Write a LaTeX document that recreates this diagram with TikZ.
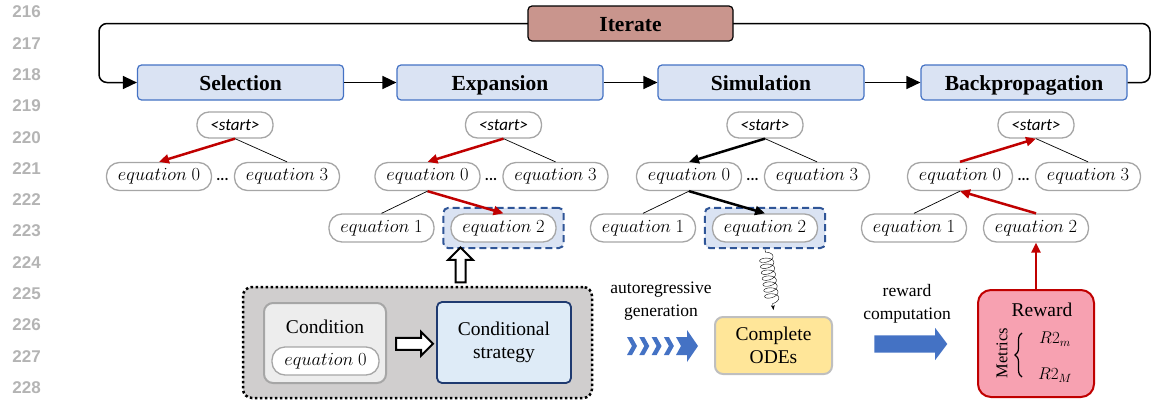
\documentclass[tikz,border=0pt]{standalone}
\usepackage{fix-cm}
\usepackage{fontspec}
\setmainfont{Liberation Serif}
\newfontfamily\carlito{Carlito}
\newfontfamily\numfont{Liberation Sans}
\usetikzlibrary{arrows.meta,positioning,calc,fit,backgrounds,shapes.arrows,decorations.pathmorphing,decorations.pathreplacing}

\definecolor{stagefill}{HTML}{DAE3F3}
\definecolor{stageblue}{HTML}{4472C4}
\definecolor{iterfill}{HTML}{C9958D}
\definecolor{pillgray}{HTML}{A6A6A6}
\definecolor{arrred}{HTML}{C00000}
\definecolor{holderfill}{HTML}{D0CECE}
\definecolor{condfill}{HTML}{EDEDED}
\definecolor{stratfill}{HTML}{DEEBF7}
\definecolor{stratnavy}{HTML}{1F3A70}
\definecolor{pickblue}{HTML}{2F5597}
\definecolor{odefill}{HTML}{FFE699}
\definecolor{odegray}{HTML}{BFBFBF}
\definecolor{rewardfill}{HTML}{F7A1B1}
\definecolor{linenum}{HTML}{B4B4B4}

\begin{document}
\begin{tikzpicture}[x=1pt,y=-1pt,
  stage/.style={draw=stageblue,fill=stagefill,line width=1.2pt,rounded corners=4pt,minimum width=206pt,minimum height=35pt,text height=15pt,text depth=0pt,font=\fontsize{21.5}{24}\selectfont\bfseries},
  iter/.style={stage,draw=black,fill=iterfill,minimum width=205pt},
  flow/.style={line width=1.5pt,-{Triangle[length=14pt,width=13pt]}},
  pill/.style={draw=pillgray,fill=white,line width=1.3pt,rounded corners=13pt,minimum width=105pt,minimum height=28pt,inner sep=0pt,font=\fontsize{18.5}{20}\selectfont},
  root/.style={pill,minimum width=76pt,minimum height=26pt,rounded corners=12pt,font=\carlito\itshape\fontsize{17}{20}\selectfont},
  dots/.style={font=\carlito\bfseries\fontsize{15}{16}\selectfont,inner sep=0pt},
  treeline/.style={line width=0.7pt},
  redarr/.style={draw=arrred,line width=2.5pt,-{Triangle[length=10pt,width=9pt]}},
  blkarr/.style={line width=2.5pt,-{Triangle[length=10pt,width=9pt]}},
  pick/.style={draw=pickblue,fill=stagefill,line width=2pt,dash pattern=on 7pt off 4pt,rounded corners=5pt,inner xsep=7pt,inner ysep=5.5pt},
  body/.style={font=\fontsize{19.5}{23}\selectfont,align=center},
  lbl/.style={font=\fontsize{17.5}{23}\selectfont,align=center},
  hollow/.style={draw,fill=white,line width=2pt,single arrow,inner xsep=0pt},
  lineno/.style={font=\numfont\bfseries\fontsize{17}{20}\selectfont,text=linenum,anchor=east,inner sep=0pt}]
\useasboundingbox (0,0) rectangle (1151,402);

\foreach \n [count=\i from 0] in {216,...,228}
  \node[lineno] at (41,{12+31.3*\i}) {\n};

\node[stage] (sel) at (240.5,82.5) {Selection};
\node[stage] (exp) at (500,82.5) {Expansion};
\node[stage] (sim) at (761,82.5) {Simulation};
\node[stage] (bp) at (1024,82.5) {Backpropagation};
\draw[flow,rounded corners=8pt] (bp.east) -| (1150,23.5) -| (99,82.5) -- (sel.west);
\node[iter] (iter) at (630.5,23.5) {Iterate};
\draw[flow] (sel) -- (exp);
\draw[flow] (exp) -- (sim);
\draw[flow] (sim) -- (bp);

\foreach \c/\x in {sel/235,exp/503.5,sim/765,bp/1036} {
  \node[root] (\c-r) at (\x,125) {<start>};
  \node[pill] (\c-0) at ({\x-76},176.5) {$equation\ 0$};
  \node[pill] (\c-3) at ({\x+52},176.5) {$equation\ 3$};
  \node[dots] (\c-dots) at ({\x-12.5},179) {...};
}
\foreach \c/\x in {exp/427.5,sim/689,bp/960} {
  \node[pill] (\c-1) at ({\x-46},228) {$equation\ 1$};
  \node[pill] (\c-2) at ({\x+76},228) {$equation\ 2$};
}
\begin{scope}[on background layer]
  \node[pick,fit=(exp-2)] (exp-box) {};
  \node[pick,fit=(sim-2)] (sim-box) {};
\end{scope}

\draw[redarr] (sel-r.south) -- (sel-0.north);
\draw[treeline] (sel-r.south) -- (sel-3.north);

\draw[redarr] (exp-r.south) -- (exp-0.north);
\draw[treeline] (exp-r.south) -- (exp-3.north);
\draw[redarr] (exp-0.south) -- (exp-2.north);
\draw[treeline] (exp-0.south) -- (exp-1.north);

\draw[blkarr] (sim-r.south) -- (sim-0.north);
\draw[treeline] (sim-r.south) -- (sim-3.north);
\draw[blkarr] (sim-0.south) -- (sim-2.north);
\draw[treeline] (sim-0.south) -- (sim-1.north);

\draw[redarr] (bp-0.north) -- (bp-r.south);
\draw[treeline] (bp-r.south) -- (bp-3.north);
\draw[redarr] (bp-2.north) -- (bp-0.south);
\draw[treeline] (bp-0.south) -- (bp-1.north);

% conditional generation part
\node[draw,fill=holderfill,line width=2.5pt,dash pattern=on 2.5pt off 2.5pt,rounded corners=9pt,minimum width=349pt,minimum height=111pt] (holder) at (417.5,342.5) {};
\node[draw=pillgray,fill=condfill,line width=2pt,rounded corners=9pt,minimum width=122pt,minimum height=80pt] (cond) at (325,343) {};
\node[body] (cond-lbl) at (325,327) {Condition};
\node[pill,minimum width=107pt] (cond-eq) at (325.5,361) {$equation\ 0$};
\node[body,draw=stratnavy,fill=stratfill,line width=1.8pt,rounded corners=5pt,minimum width=134pt,minimum height=81pt] (strat) at (504,342.5) {Conditional\\strategy};
\node[hollow,inner ysep=5pt,single arrow head extend=6pt,minimum height=37pt] (cond-arr) at ($(cond.east)!0.5!(strat.west)+(0,1)$) {};
\node[hollow,inner ysep=4pt,single arrow head extend=7.5pt,minimum height=35pt,rotate=90] (up-arr) at ($(holder.north)!0.5!(exp-box.south)$) {};

\node[lbl] (gen-lbl) at (661,301.5) {autoregressive\\generation};
\foreach \i in {0,...,3}
  \fill[stageblue,shift={({627+12.3*\i},0)}] (0,337) -- (5,337) -- (10,346) -- (5,355) -- (0,355) -- (5,346) -- cycle;
\fill[stageblue] (676,337) -- (687,337) -- (687,330) -- (698,346) -- (687,362) -- (687,355) -- (676,355) -- (681,346) -- cycle;

\node[body,draw=odegray,fill=odefill,line width=2pt,rounded corners=8pt,minimum width=117pt,minimum height=57pt] (ode) at (773.5,345.5) {Complete\\ODEs};
\draw[decorate,decoration={coil,aspect=0.5,amplitude=7pt,segment length=6pt,pre length=3pt,post length=5pt},-{Stealth[length=5pt]}] (sim-box.south) -- ($(ode.north)+(0,-6)$);

\node[lbl] (rew-lbl) at (907,303.5) {reward\\computation};
\node[fill=stageblue,single arrow,single arrow head extend=7.5pt,single arrow tip angle=106,inner xsep=0pt,inner ysep=8.5pt,minimum height=73pt] (rew-arr) at (907.5,344) {};

\node[draw=arrred,fill=rewardfill,line width=2pt,rounded corners=13pt,minimum width=116pt,minimum height=107pt] (reward) at (1036,343.5) {};
\node[body] (reward-lbl) at (1042,310) {Reward};
\node[font=\fontsize{16.5}{20}\selectfont,rotate=90] (metrics) at (1002,353) {Metrics};
\draw[line width=1.2pt,decorate,decoration={brace,amplitude=7pt}] (1022,377) -- (1022,333);
\node[font=\fontsize{17}{20}\selectfont] (r2m) at (1055,339) {$R2_m$};
\node[font=\fontsize{17}{20}\selectfont] (r2big) at (1055,375) {$R2_M$};
\draw[redarr] (reward.north) -- (bp-2.south);
\end{tikzpicture}
\end{document}
